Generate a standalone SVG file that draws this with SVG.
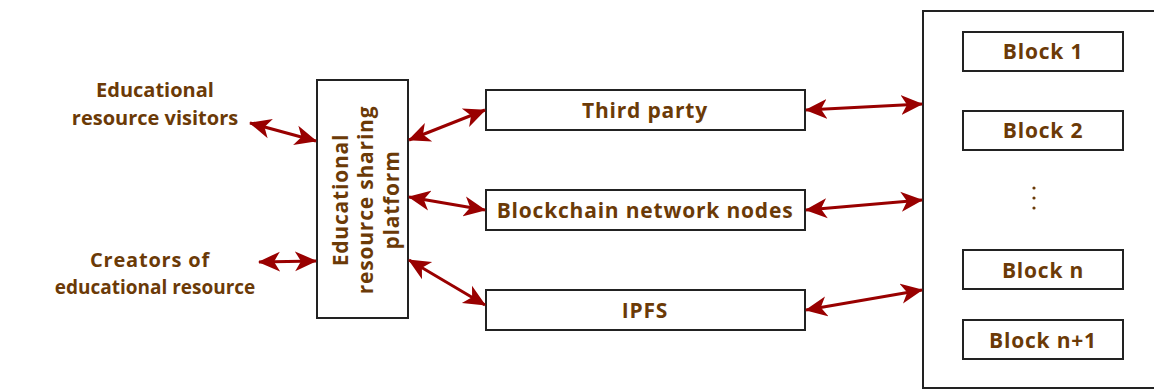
<svg xmlns="http://www.w3.org/2000/svg" width="1154" height="390" viewBox="0 0 1154 390">
<style>
.box{fill:#fff;stroke:#222;stroke-width:2}
.t{font-family:"Open Sans","Liberation Sans",sans-serif;font-weight:bold;font-size:20px;fill:#6B3A07;text-anchor:middle}
.b{font-size:21px;letter-spacing:0.8px}
.c{stroke:#990000;stroke-width:3;fill:none;marker-start:url(#ah);marker-end:url(#ah)}
</style>
<defs>
<marker id="ah" viewBox="0 0 22 22" refX="21" refY="11" markerWidth="22" markerHeight="22" markerUnits="userSpaceOnUse" orient="auto-start-reverse">
<path d="M0,1 L22,11 L0,21 L6,11 Z" fill="#990000"/>
</marker>
</defs>
<rect width="1154" height="390" fill="#fff"/>
<g id="visitors"><text class="t" x="155" y="97">Educational</text><text class="t" x="155" y="125">resource visitors</text></g>
<g id="creators"><text class="t" x="150" y="267" style="letter-spacing:0.8px">Creators of</text><text class="t" x="155" y="294" style="font-size:19px">educational resource</text></g>
<g id="platform"><rect class="box" x="317" y="80" width="91" height="238"/>
<g transform="translate(364,200) rotate(-90)"><text class="t b" x="0" y="-16">Educational</text><text class="t b" x="0" y="9">resource sharing</text><text class="t b" x="0" y="35">platform</text></g></g>
<g id="third"><rect class="box" x="486" y="90" width="319" height="40"/><text class="t b" x="645" y="118">Third party</text></g>
<g id="blockchain"><rect class="box" x="486" y="190" width="319" height="40"/><text class="t b" x="645" y="218">Blockchain network nodes</text></g>
<g id="ipfs"><rect class="box" x="486" y="290" width="319" height="40"/><text class="t b" x="645" y="318">IPFS</text></g>
<g id="chain"><rect class="box" x="923" y="11" width="260" height="377"/>
<rect class="box" x="963" y="32" width="160" height="39"/><text class="t b" x="1043" y="59">Block 1</text>
<rect class="box" x="963" y="111" width="160" height="39"/><text class="t b" x="1043" y="138">Block 2</text>
<g fill="#6B3A07"><circle cx="1034" cy="188" r="1.6"/><circle cx="1034" cy="198" r="1.6"/><circle cx="1034" cy="208" r="1.6"/></g>
<rect class="box" x="963" y="250" width="160" height="39"/><text class="t b" x="1043" y="278">Block n</text>
<rect class="box" x="963" y="320" width="160" height="39"/><text class="t b" x="1043" y="348">Block n+1</text></g>
<g id="connectors">
<line class="c" x1="250" y1="123" x2="316" y2="141"/>
<line class="c" x1="259" y1="262" x2="316" y2="261"/>
<line class="c" x1="409" y1="140" x2="485" y2="110"/>
<line class="c" x1="409" y1="197" x2="485" y2="210"/>
<line class="c" x1="409" y1="260" x2="485" y2="305"/>
<line class="c" x1="806" y1="110" x2="922" y2="104"/>
<line class="c" x1="806" y1="210" x2="922" y2="200"/>
<line class="c" x1="806" y1="310" x2="922" y2="290"/>
</g>
</svg>
